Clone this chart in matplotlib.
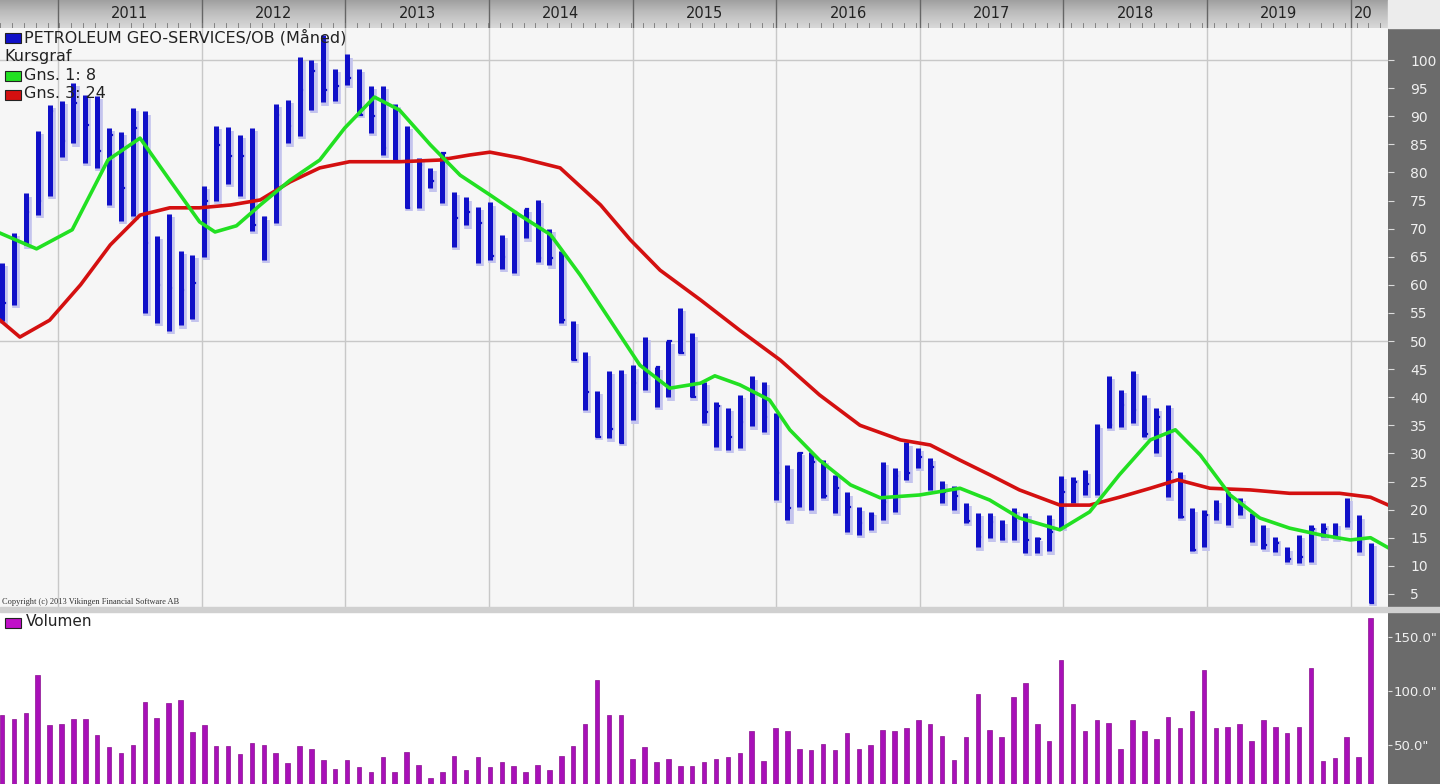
import matplotlib
matplotlib.use("Agg")
import matplotlib.pyplot as plt
import numpy as np

# monthly bars, starting Aug 2010 (index 0)
high = [63.9,69.2,76.3,87.4,92.0,92.7,95.9,93.8,93.6,87.9,87.2,91.5,90.9,68.7,72.6,66.0,65.3,77.6,88.3,88.0,
        86.7,87.9,72.2,92.2,92.9,100.5,100.0,104.4,98.4,101.0,98.4,95.4,95.4,92.2,88.3,82.6,80.8,83.5,76.5,75.6,
        73.9,74.7,68.9,72.9,73.5,75.1,70.0,66.0,53.6,48.0,41.1,44.7,44.8,45.7,50.7,45.4,50.0,55.9,51.4,42.7,
        39.2,38.1,40.4,43.7,42.7,37.1,27.9,30.3,30.3,28.9,26.2,23.1,20.4,19.6,28.5,27.4,32.0,31.0,29.2,25.1,
        24.2,21.2,19.4,19.4,18.1,20.2,19.4,15.1,19.0,26.0,25.8,27.0,35.2,43.8,41.3,44.7,40.4,38.1,38.6,26.7,
        20.2,19.9,21.7,23.1,22.1,19.4,17.3,15.1,13.3,15.5,17.3,17.6,17.6,22.1,19.0,14.1]
low = [53.6,56.4,67.0,72.4,75.8,82.7,85.2,81.7,80.8,74.2,71.4,72.2,55.0,53.2,51.8,52.8,53.9,65.0,75.0,78.0,
       75.8,69.6,64.4,71.0,85.2,86.5,91.1,92.5,92.7,95.6,90.2,87.0,83.1,82.2,73.7,73.7,77.2,74.6,66.8,70.6,
       63.9,64.4,62.9,62.1,68.3,64.1,63.5,53.2,46.6,37.7,32.9,32.7,31.9,35.9,41.3,38.3,40.0,47.9,40.0,35.4,
       31.1,30.6,31.0,34.8,33.8,21.7,18.1,20.4,19.9,22.1,19.4,16.0,15.5,16.4,18.1,19.6,25.3,27.4,23.5,21.2,
       19.9,17.6,13.3,14.9,14.6,14.6,12.3,12.3,12.6,16.8,21.2,22.6,22.6,34.5,34.7,35.4,33.0,30.0,22.2,18.5,
       12.7,13.3,18.1,17.3,19.0,14.2,13.0,12.4,10.7,10.5,10.7,15.1,14.9,16.9,12.4,3.4]
close = [56.7,68.0,73.0,75.0,91.0,85.6,92.3,88.4,83.8,86.7,77.2,87.9,67.4,60.0,59.4,59.0,60.3,75.0,84.9,83.0,
         83.0,70.6,71.9,90.2,88.3,94.7,98.0,94.7,95.4,96.8,90.2,90.0,84.3,82.2,73.7,81.3,78.5,83.5,71.9,72.9,
         71.0,65.1,65.0,72.9,73.5,64.8,64.8,53.7,46.6,40.9,32.9,34.3,31.9,42.5,43.2,45.4,50.0,47.9,40.0,37.4,
         38.5,32.9,35.6,40.7,36.5,26.5,20.2,30.0,28.5,22.5,23.8,20.5,17.6,19.0,21.4,26.0,26.5,29.4,27.5,23.1,
         22.5,18.0,15.1,17.8,14.8,18.0,14.6,14.8,16.0,23.1,25.0,24.5,34.7,35.0,38.6,37.7,33.5,36.5,26.7,18.7,
         12.9,19.0,19.5,22.0,20.0,14.5,13.7,14.0,11.2,11.5,16.5,16.5,17.2,17.8,14.2,3.4]
volume = [77.8,74.1,79.3,114.5,68.5,69.8,74.1,74.1,59.0,48.1,42.6,49.7,90.1,75.3,88.9,91.7,61.7,68.5,48.8,48.8,
          41.4,51.5,50.3,42.6,33.3,49.4,46.6,35.8,27.8,35.8,29.3,25.3,38.6,25.3,43.8,31.8,19.2,25.3,40.1,26.6,
          38.6,29.3,34.6,30.6,25.3,31.8,26.6,40.1,48.8,69.8,110.5,77.8,77.8,37.4,48.1,34.6,37.4,30.6,30.6,34.6,
          37.4,38.6,42.6,62.7,34.8,65.5,62.7,46.6,45.5,50.6,45.5,61.3,46.6,49.6,63.8,62.7,65.5,73.5,69.6,58.7,
          35.8,57.6,96.9,63.8,57.6,94.2,107.0,69.6,53.9,128.8,87.9,62.7,73.5,70.4,46.6,73.5,62.7,55.7,76.2,65.5,
          81.1,119.2,65.5,66.6,69.6,53.9,73.5,66.6,61.3,66.6,121.5,34.8,37.6,57.6,38.6,167.4]

ma8_x = [-0.17,2.9,5.9,8.9,11.6,14.1,16.6,17.9,19.7,21.7,24.2,26.7,28.8,31.3,33.4,36.0,38.5,41.0,43.5,46.1,
         48.6,51.1,53.6,56.1,58.7,59.9,62.0,64.5,66.2,68.7,71.3,73.8,77.1,80.5,83.0,85.5,88.9,91.4,93.9,96.5,
         98.6,100.7,103.2,105.7,108.2,110.8,113.3,115.0,116.5]
ma8_y = [69.2,66.4,69.8,82.2,86.1,78.6,71.2,69.4,70.5,74.2,78.6,82.2,87.9,93.4,91.1,84.9,79.5,76.0,72.4,68.9,
         61.7,53.7,45.7,41.6,42.5,43.8,42.2,39.5,34.2,28.8,24.4,22.1,22.6,23.8,21.7,18.5,16.4,19.6,26.2,32.4,
         34.2,29.7,22.6,18.5,16.7,15.5,14.6,15.0,13.2]
ma24_x = [-0.17,1.5,4.0,6.6,9.1,11.6,14.1,16.6,19.2,21.7,24.2,26.7,29.2,33.4,36.8,39.3,41.0,43.5,46.9,50.3,
          52.8,55.3,58.7,62.0,65.4,68.7,72.1,75.5,78.0,80.5,83.0,85.5,88.9,91.4,93.9,96.5,98.8,101.5,104.9,108.2,
          112.4,115.0,116.5]
ma24_y = [53.7,50.7,53.7,60.0,67.1,72.4,73.7,73.7,74.2,75.1,78.3,80.8,81.9,81.9,82.2,83.1,83.6,82.6,80.8,74.2,
          68.0,62.6,57.3,51.9,46.6,40.4,35.0,32.4,31.5,28.8,26.2,23.5,20.8,20.8,22.2,23.8,25.3,23.8,23.5,22.9,
          22.9,22.2,20.8]

years = ["2011","2012","2013","2014","2015","2016","2017","2018","2019","20"]
price_ticks = [5,10,15,20,25,30,35,40,45,50,55,60,65,70,75,80,85,90,95,100]
vol_ticks = [50,100,150]

W, H = 1440, 784
fig = plt.figure(figsize=(W/100, H/100), dpi=100)
fig.patch.set_facecolor("white")
XL, XR = -0.17, 116.47
yr0 = 4.71; yrw = 12.07
ybounds = [yr0 + k*yrw for k in range(len(years))]

def rect(x0, y0, x1, y1):
    return [x0/W, 1-y1/H, (x1-x0)/W, (y1-y0)/H]

DARK = "#6b6b6b"
# top year strip
axt = fig.add_axes(rect(0, 0, 1388, 28))
axt.set_xlim(XL, XR); axt.set_ylim(0, 1)
grad = np.linspace(0, 1, 50).reshape(-1, 1)
axt.imshow(grad, extent=[XL, XR, 0, 1], aspect="auto", cmap="Greys", vmin=-1.2, vmax=3.5,
           origin="lower", interpolation="bilinear")
for k, b in enumerate(ybounds):
    axt.plot([b, b], [0, 1], color="#666666", lw=1)
    last = k + 1 == len(ybounds)
    end = XR if last else ybounds[k+1]
    axt.text(b+0.3 if last else (b+end)/2, 0.5, years[k], ha="left" if last else "center",
             va="center", fontsize=10.5, color="#222222")
for m in np.arange(-0.17, XR, 1.0):
    axt.plot([m, m], [0, 0.18], color="#777777", lw=0.6)
axt.axis("off")
fig.add_artist(plt.Rectangle((1388/W, 1-28/H), 52/W, 28/H, transform=fig.transFigure, color="#ececec"))

# price panel
ax = fig.add_axes(rect(0, 28, 1388, 607))
ymin = 100 - (607-60)/5.62; ymax = 100 + (60-28)/5.62
ax.set_xlim(XL, XR); ax.set_ylim(ymin, ymax)
ax.set_facecolor("#f6f6f6")
for b in ybounds:
    ax.axvline(b, color="#c8c8c8", lw=1, zorder=0)
for v in (50, 100):
    ax.axhline(v, color="#c8c8c8", lw=1, zorder=0)
idx = np.arange(len(high))
ax.vlines(idx+0.18, np.array(low)-0.6, np.array(high)-0.6, color="#c4c4ee", lw=5.5, zorder=1)
ax.vlines(idx, low, high, color="#1010c8", lw=3.6, zorder=2)
for i, c in enumerate(close):
    ax.plot([i, i+0.22], [c, c], color="#1010c8", lw=1.6, zorder=2)
ax.plot(ma24_x, ma24_y, color="#d41010", lw=2.6, zorder=3, solid_joinstyle="round")
ax.plot(ma8_x, ma8_y, color="#22e022", lw=2.6, zorder=4, solid_joinstyle="round")
ax.yaxis.tick_right()
ax.set_yticks(price_ticks)
ax.set_yticklabels([str(t) for t in price_ticks], fontsize=10, color="#f0f0f0")
ax.tick_params(axis="y", length=4, color="#dddddd", pad=12)
ax.set_xticks([])
for s in ax.spines.values():
    s.set_visible(False)
fig.add_artist(plt.Rectangle((1388/W, 1-607/H), 52/W, 579/H, transform=fig.transFigure, color=DARK, zorder=-1))
# legend
def leg(y, color, txt, fs=11.5):
    if color:
        fig.add_artist(plt.Rectangle((5/W, 1-(y+6)/H), 16/W, 10/H, transform=fig.transFigure,
                                     facecolor=color, edgecolor="#222222", lw=0.8))
        fig.text(24/W, 1-y/H, txt, fontsize=fs, va="center", color="#222222")
    else:
        fig.text(4/W, 1-y/H, txt, fontsize=fs, va="center", color="#222222")
leg(37, "#1010c8", "PETROLEUM GEO-SERVICES/OB (Måned)")
leg(56, None, "Kursgraf")
leg(75, "#22e022", "Gns. 1: 8")
leg(94, "#d41010", "Gns. 3: 24")
fig.text(2/W, 1-602/H, "Copyright (c) 2013 Vikingen Financial Software AB", fontsize=6,
         family="Liberation Serif", va="center", color="#333333")

# separator
fig.add_artist(plt.Rectangle((0, 1-612/H), 1, 5/H, transform=fig.transFigure, color="#d0d0d0"))

# volume panel
axv = fig.add_axes(rect(0, 612, 1388, 784))
vmin = 50 - (784-745)/1.08; vmax = 50 + (745-612)/1.08
axv.set_xlim(XL, XR); axv.set_ylim(vmin, vmax)
axv.set_facecolor("white")
axv.bar(idx, np.array(volume)-vmin, bottom=vmin, width=0.38, color="#a810b8", edgecolor="#8a1090", lw=0.5)
axv.yaxis.tick_right()
axv.set_yticks(vol_ticks)
axv.set_yticklabels([f"{t:.1f}\"" for t in vol_ticks], fontsize=9.5, color="#f0f0f0")
axv.tick_params(axis="y", length=3, color="#dddddd", pad=1)
axv.set_xticks([])
for s in axv.spines.values():
    s.set_visible(False)
fig.add_artist(plt.Rectangle((1388/W, 0), 52/W, 172/H, transform=fig.transFigure, color=DARK, zorder=-1))
fig.add_artist(plt.Rectangle((5/W, 1-628/H), 16/W, 10/H, transform=fig.transFigure,
                             facecolor="#c010c8", edgecolor="#222222", lw=0.8))
fig.text(26/W, 1-622/H, "Volumen", fontsize=11, va="center", color="#222222")

fig.savefig("out.png", dpi=100, facecolor="white")
